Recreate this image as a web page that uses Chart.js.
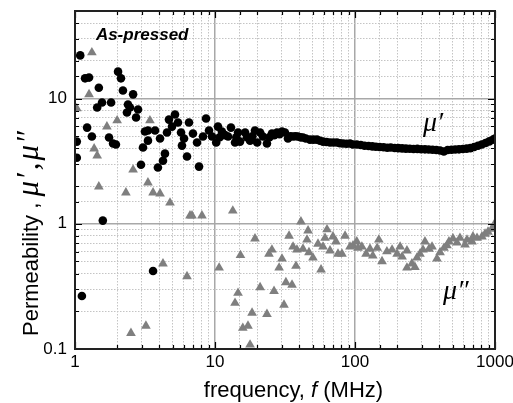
<!DOCTYPE html>
<html><head><meta charset="utf-8">
<script src="https://cdn.jsdelivr.net/npm/chart.js@4"></script>
<style>html,body{margin:0;padding:0;background:#fff;}#wrap{width:513px;height:403px;}</style>
</head><body><div id="wrap"><canvas id="c" width="513" height="403"></canvas></div>
<script>
// ---- data ----
const muPrimeFreq = [1.03,1.03,1.09,1.12,1.18,1.22,1.26,1.32,1.44,1.48,1.56,1.58,1.75,1.81,1.87,1.96,2.03,2.13,2.20,2.35,2.39,2.47,2.60,2.73,2.82,2.96,3.06,3.16,3.32,3.32,3.61,3.73,3.91,4.05,4.25,4.39,4.54,4.69,4.93,5.18,5.44,5.72,5.81,6.01,6.31,6.52,6.96,7.44,7.69,8.21,8.63,9.06,9.52,10.2,10.5,10.8,11.2,11.8,12.4,13.0,13.9,14.2,14.6,15.1,16.4,16.9,17.8,18.5,19.3,20.0,21.0,22.0,23.5,24.5,25.5,26.5,27.7,28.9,30.1,31.6,33.2,34.6,36.1,37.6,39.2,40.8,42.5,44.5,47.7,50.5,53.5,56.2,59.1,62.6,66.3,70.2,74.3,78.1,82.1,87.0,92.1,96.5,103,110,117,125,133,141,150,160,170,180,192,204,217,231,246,262,279,297,316,336,358,381,405,431,459,489,520,553,589,627,667,710,756,804,856,911,970,1000];
const muPrimeVal = [4.53,3.37,22.1,0.265,14.5,5.86,14.7,4.97,8.47,12.2,9.29,1.06,4.88,9.29,4.37,4.29,16.4,14.5,11.6,7.73,8.95,8.47,10.8,7.05,8.17,2.96,4.06,5.45,5.55,4.61,0.42,5.55,2.81,4.79,3.19,3.63,5.35,6.79,5.97,7.45,6.43,5.35,4.21,4.79,3.44,6.43,5.25,4.45,2.86,4.97,6.92,5.55,4.97,4.45,5.97,4.9,5.45,5.1,4.97,5.86,4.45,4.9,5.35,4.53,5.35,4.9,4.61,5.0,5.55,4.45,5.35,4.97,4.37,4.9,5.25,5.1,5.35,5.2,5.45,5.35,4.79,5.0,4.97,5.0,4.97,4.9,4.88,4.8,4.70,4.7,4.70,4.6,4.53,4.5,4.45,4.45,4.45,4.4,4.37,4.35,4.37,4.3,4.29,4.25,4.2,4.18,4.15,4.12,4.1,4.08,4.05,4.06,4.03,4.02,4.0,3.98,3.97,3.95,3.96,3.94,3.93,3.92,3.9,3.88,3.85,3.78,3.88,3.9,3.92,3.93,3.95,3.98,4.02,4.1,4.2,4.3,4.42,4.55,4.7,4.8];
const muDoubleFreq = [1.03,1.26,1.32,1.37,1.44,1.48,1.69,2.0,2.31,2.51,2.60,3.21,3.32,3.43,3.61,4.05,4.25,4.77,6.31,6.63,6.85,8.07,10.7,13.4,13.9,14.6,15.2,15.8,17.2,17.8,18.4,19.3,21.0,23.5,24.3,25.5,26.4,28.7,30.1,31.1,32.1,33.8,35.5,36.1,37.9,38.5,41.1,42.5,45.4,46.2,46.9,50.1,54.4,57.2,59.1,61.1,63.1,66.3,69.6,73.1,75.6,80.7,84.9,92.1,96.8,103,105,112,120,128,134,144,148,156,169,184,200,210,217,235,235,255,268,277,291,306,316,338,355,385,405,432,454,469,501,535,562,611,631,685,696,744,807,849,891,952,984];
const muDoubleVal = [8.32,10.8,23.3,3.98,3.50,1.98,5.97,6.67,1.77,0.134,2.70,0.153,2.13,6.67,1.77,1.74,0.48,1.47,0.38,1.16,1.16,1.16,0.445,1.27,0.233,0.28,0.56,0.147,0.153,0.108,0.194,0.76,0.31,0.19,0.575,0.62,0.29,0.445,0.525,0.225,0.34,0.80,0.325,0.655,0.46,0.62,1.04,0.63,0.745,0.88,0.59,0.535,0.69,0.43,0.655,0.77,0.90,0.61,0.79,0.72,0.575,0.575,0.80,0.655,0.67,0.72,0.64,0.655,0.575,0.63,0.555,0.64,0.745,0.50,0.60,0.62,0.575,0.655,0.545,0.61,0.445,0.48,0.45,0.535,0.575,0.62,0.72,0.63,0.655,0.525,0.59,0.64,0.67,0.72,0.76,0.705,0.77,0.68,0.745,0.72,0.79,0.77,0.79,0.83,0.86,0.91,0.98];
const xTickLabels = ['1','10','100','1000'];
const yTickLabels = ['0.1','1','10'];
const xRange = [1, 1000];
const yRange = [0.1, 50];

const SANS = '"Liberation Sans", Arial, sans-serif';
const SERIF = '"Liberation Serif", "Times New Roman", serif';
const isPow10 = v => { const l = Math.log10(v); return Math.abs(l - Math.round(l)) < 1e-6; };
const labelFor = (list, v) => { const m = list.find(s => Math.abs(Number(s) - v) / v < 1e-6); return m || ''; };
const isMajorCtx = ctx => ctx && ctx.tick && isPow10(ctx.tick.value);

const decor = {
  id: 'decor',
  afterDraw(chart) {
    const {ctx, chartArea: a, scales} = chart;
    const xs = scales.x, ys = scales.y;
    ctx.save();
    // inward tick marks on all four sides
    ctx.strokeStyle = '#000'; ctx.lineWidth = 1.2;
    xs.ticks.forEach(t => {
      const p = Math.round(xs.getPixelForValue(t.value)) + 0.5; const L = isPow10(t.value) ? 7 : 4;
      ctx.beginPath(); ctx.moveTo(p, a.bottom); ctx.lineTo(p, a.bottom - L); ctx.moveTo(p, a.top); ctx.lineTo(p, a.top + L); ctx.stroke();
    });
    ys.ticks.forEach(t => {
      const p = Math.round(ys.getPixelForValue(t.value)) + 0.5; const L = isPow10(t.value) ? 7 : 4;
      ctx.beginPath(); ctx.moveTo(a.left, p); ctx.lineTo(a.left + L, p); ctx.moveTo(a.right, p); ctx.lineTo(a.right - L, p); ctx.stroke();
    });
    // frame
    ctx.strokeStyle = '#222'; ctx.lineWidth = 2;
    ctx.strokeRect(a.left, a.top, a.right - a.left, a.bottom - a.top);
    // in-plot labels
    ctx.fillStyle = '#000'; ctx.textBaseline = 'alphabetic'; ctx.textAlign = 'left';
    ctx.font = 'italic bold 17px ' + SANS;
    ctx.fillText('As-pressed', xs.getPixelForValue(1.41), ys.getPixelForValue(29.1));
    ctx.font = 'italic 28px ' + SERIF;
    ctx.fillText('\u03BC\u2032', xs.getPixelForValue(306), ys.getPixelForValue(5.55));
    ctx.fillText('\u03BC\u2033', xs.getPixelForValue(425), ys.getPixelForValue(0.251));
    // x title
    const p1 = 'frequency, ', p2 = 'f', p3 = ' (MHz)';
    ctx.font = '22px ' + SANS; const w1 = ctx.measureText(p1).width, w3 = ctx.measureText(p3).width;
    ctx.font = 'italic 22px ' + SANS; const w2 = ctx.measureText(p2).width;
    let x0 = 293.5 - (w1 + w2 + w3) / 2; const yb = 397;
    ctx.font = '22px ' + SANS; ctx.fillText(p1, x0, yb);
    ctx.font = 'italic 22px ' + SANS; ctx.fillText(p2, x0 + w1, yb);
    ctx.font = '22px ' + SANS; ctx.fillText(p3, x0 + w1 + w2, yb);
    // y title (rotated)
    ctx.translate(38, 336); ctx.rotate(-Math.PI / 2);
    ctx.font = '22px ' + SANS; const q1 = 'Permeability , '; const wq = ctx.measureText(q1).width;
    ctx.fillText(q1, 0, 0);
    ctx.font = 'italic 31px ' + SERIF;
    const chars = ['\u03BC', '\u2032', ',', '\u03BC', '\u2033'];
    const gaps = [1, 3, 2, 1, 0];
    let cx = wq;
    chars.forEach((c, i) => { ctx.fillText(c, cx, 0); cx += ctx.measureText(c).width + gaps[i]; });
    ctx.restore();
  }
};

new Chart(document.getElementById('c'), {
  type: 'scatter',
  data: {
    datasets: [
      { label: "\u03BC'", data: muPrimeFreq.map((f, i) => ({x: f, y: muPrimeVal[i]})), pointStyle: 'circle', pointRadius: 4.3, pointBorderWidth: 0, backgroundColor: '#000', borderColor: '#000', order: 2 },
      { label: "\u03BC''", data: muDoubleFreq.map((f, i) => ({x: f, y: muDoubleVal[i]})), pointStyle: 'triangle', pointRadius: 5.6, pointBorderWidth: 0, backgroundColor: '#7f7f7f', borderColor: '#7f7f7f', order: 1 }
    ]
  },
  options: {
    responsive: false, animation: false, devicePixelRatio: 1,
    layout: { padding: { top: 11, right: 18, left: 0, bottom: 0 } },
    plugins: { legend: { display: false }, tooltip: { enabled: false } },
    scales: {
      x: {
        type: 'logarithmic', position: 'bottom', min: xRange[0], max: xRange[1],
        afterFit(s) { s.height = 54; s.paddingLeft = 0; s.paddingRight = 0; },
        grid: { drawTicks: false, color: c => isMajorCtx(c) ? '#a8a8a8' : '#c4c4c4', lineWidth: c => isMajorCtx(c) ? 1.5 : 1 },
        border: { display: false, dash: c => (c && c.tick && !isPow10(c.tick.value)) ? [1.5, 1.5] : [] },
        ticks: { autoSkip: false, maxRotation: 0, padding: 3, color: '#000', font: { family: SANS, size: 17 }, callback: v => labelFor(xTickLabels, v) }
      },
      y: {
        type: 'logarithmic', position: 'left', min: yRange[0], max: yRange[1],
        afterFit(s) { s.width = 75; s.paddingTop = 0; s.paddingBottom = 0; },
        grid: { drawTicks: false, color: c => isMajorCtx(c) ? '#a8a8a8' : '#c4c4c4', lineWidth: c => isMajorCtx(c) ? 1.5 : 1 },
        border: { display: false, dash: c => (c && c.tick && !isPow10(c.tick.value)) ? [1.5, 1.5] : [] },
        ticks: { autoSkip: false, padding: 8, color: '#000', font: { family: SANS, size: 17 }, callback: v => labelFor(yTickLabels, v) }
      }
    }
  },
  plugins: [decor]
});
</script></body></html>
